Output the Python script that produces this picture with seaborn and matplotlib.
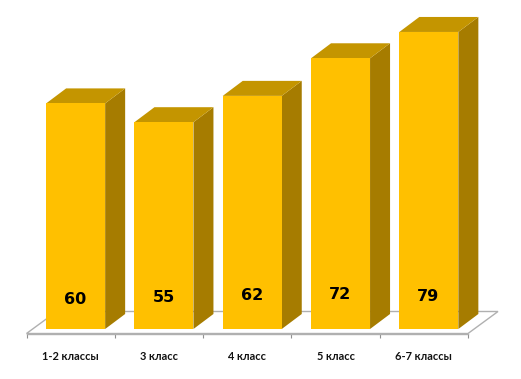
import matplotlib
matplotlib.use("Agg")
import matplotlib.pyplot as plt
from matplotlib.patches import Polygon
import pandas as pd
import seaborn as sns

categories = ["1-2 классы", "3 класс", "4 класс", "5 класс", "6-7 классы"]
values = [60, 55, 62, 72, 79]

W, H = 521, 379
FRONT, SIDE, TOP = "#FFC000", "#A67C00", "#C49500"
PX_X = (468 - 26.5) / 5      # pixels per category
PX_Y = 3.76                  # pixels per unit
BAR_SHIFT = 5 / PX_X         # front faces sit right of the cell centre
label_lift = [30, 31, 34, 34.5, 32.5]   # label height above the baseline, px

sns.set_theme(style="white")
fig = plt.figure(figsize=(W / 100, H / 100), dpi=100, facecolor="white")
ax = fig.add_axes([26.5 / W, (H - 329) / H, (468 - 26.5) / W, 319 / H])

df = pd.DataFrame({"cat": categories, "val": values})
sns.barplot(data=df, x="cat", y="val", color=FRONT, saturation=1, width=59 / PX_X,
            ax=ax, zorder=5, linewidth=0)
ax.set_xlim(-0.5, 4.5)
ax.set_ylim(0, 319 / PX_Y)
ax.set_xlabel("")
ax.set_ylabel("")
ax.set_yticks([])


def off(dx, dy):
    return dx / PX_X, dy / PX_Y


# floor
axis_y = -4.5 / PX_Y
fx, fy = off(30, 22)
ax.add_patch(Polygon([(-0.5, axis_y), (4.5, axis_y), (4.5 + fx, axis_y + fy), (-0.5 + fx, axis_y + fy)],
                     closed=True, facecolor="white", edgecolor="#B0B0B0", linewidth=1.0,
                     clip_on=False, zorder=1))

# depth faces derived from the drawn bars
dx, dy = off(20, 15)
for bar, lift in zip(ax.patches[:5], label_lift):
    bar.set_x(bar.get_x() + BAR_SHIFT)
    x0, x1, h = bar.get_x(), bar.get_x() + bar.get_width(), bar.get_height()
    ax.add_patch(Polygon([(x1, 0), (x1 + dx, dy), (x1 + dx, h + dy), (x1, h)],
                         closed=True, facecolor=SIDE, edgecolor="none", clip_on=False, zorder=4))
    ax.add_patch(Polygon([(x0, h), (x0 + dx, h + dy), (x1 + dx, h + dy), (x1, h)],
                         closed=True, facecolor=TOP, edgecolor="none", clip_on=False, zorder=4))
    ax.annotate(f"{h:.0f}", xy=(bar.get_x() + bar.get_width() / 2 - 0.5 / PX_X, 0), xytext=(0, lift * 0.72),
                textcoords="offset points", ha="center", va="center",
                family="DejaVu Sans", fontweight="bold", fontsize=11.5,
                color="black", zorder=6)

for s in ["top", "left", "right"]:
    ax.spines[s].set_visible(False)
ax.spines["bottom"].set_position(("outward", 4.5 * 0.72))
ax.spines["bottom"].set_color("#B0B0B0")
ax.spines["bottom"].set_linewidth(1.0)
ax.spines["bottom"].set_zorder(2)
ax.set_xticks(range(5))
ax.set_xticklabels(categories, family="Lato", fontweight="bold", fontsize=7.9, color="#111111")
ax.set_xticks([i - 0.5 for i in range(6)], minor=True)
ax.tick_params(axis="x", which="major", length=0, pad=12.3)
ax.tick_params(axis="x", which="minor", length=2.6, width=0.8, color="#909090", bottom=True)

fig.savefig("out.png", dpi=100, facecolor="white")
